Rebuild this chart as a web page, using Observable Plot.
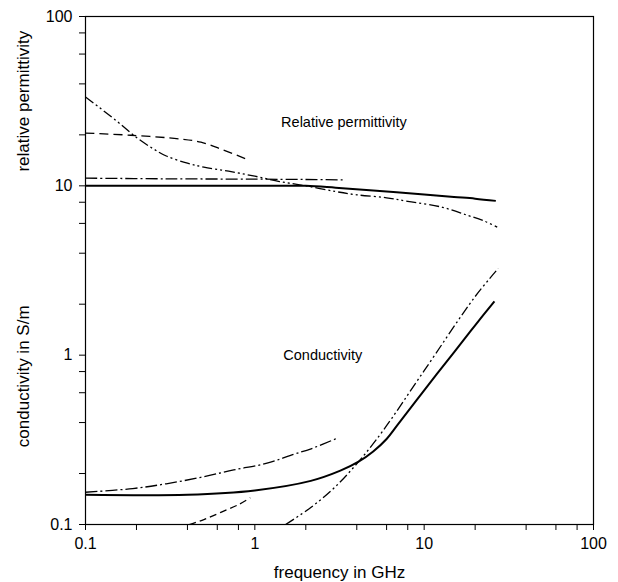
<!DOCTYPE html>
<html><head><meta charset="utf-8">
<script src="https://cdn.jsdelivr.net/npm/d3@7"></script>
<script src="https://cdn.jsdelivr.net/npm/@observablehq/plot@0.6"></script>
<style>body{margin:0;background:#fff}</style>
</head><body><div id="chart"></div>
<script>
// Relative permittivity curves (frequency in GHz, value)
const permSolidF = [0.1, 0.3, 1, 2, 3, 5, 10, 15, 20, 26.5];
const permSolidV = [10.0, 10.0, 10.0, 10.0, 9.75, 9.4, 8.9, 8.6, 8.4, 8.15];
const permDashDotF = [0.1, 0.3, 1, 2, 3.3];
const permDashDotV = [11.1, 11.0, 10.95, 10.9, 10.85];
const permDashedF = [0.1, 0.185, 0.365, 0.48, 0.63, 0.92];
const permDashedV = [20.5, 19.9, 18.9, 18.1, 16.5, 14.2];
const permDashDotDotF = [0.1, 0.15, 0.2, 0.25, 0.3, 0.4, 0.5, 0.7, 1.0, 1.4, 2.0, 3.0, 4.0, 6.0, 8.0, 12.6, 18, 22.6, 27];
const permDashDotDotV = [33.5, 24.5, 19.3, 16.6, 15.0, 13.6, 12.9, 12.2, 11.4, 10.6, 10.0, 9.25, 8.85, 8.5, 8.1, 7.5, 6.7, 6.2, 5.7];

// Conductivity curves (frequency in GHz, S/m)
const condSolidF = [0.1, 0.4, 1, 2.14, 3.2, 4.1, 5, 6, 7, 10, 15, 20, 26];
const condSolidV = [0.150, 0.150, 0.159, 0.181, 0.208, 0.235, 0.27, 0.32, 0.39, 0.62, 1.04, 1.50, 2.08];
const condDashDotF = [0.1, 0.19, 0.3, 0.48, 0.75, 1.18, 1.7, 2.15, 3.1];
const condDashDotV = [0.155, 0.163, 0.174, 0.19, 0.21, 0.23, 0.26, 0.28, 0.325];
const condDashedF = [0.41, 0.5, 0.63, 0.8, 0.94];
const condDashedV = [0.1, 0.107, 0.118, 0.131, 0.144];
const condDashDotDotF = [1.52, 2.14, 2.95, 4.1, 5.7, 10, 20, 27.4];
const condDashDotDotV = [0.1, 0.126, 0.165, 0.235, 0.357, 0.81, 2.22, 3.25];

// Ticks
const majorTicks = [0.1, 1, 10, 100];
const minorTicks = [0.2, 0.4, 0.6, 0.8, 2, 4, 6, 8, 20, 40, 60, 80];

// Annotations
const annoLabels = ["Relative permittivity", "Conductivity"];
const annoF = [3.36, 2.52];
const annoV = [23.8, 1.0];

const xTitle = "frequency in GHz";
const yTitles = ["relative permittivity", "conductivity in S/m"];
const yTitleV = [31.6, 0.75];

const zip = (F, V) => F.map((f, i) => ({f, v: V[i]}));
const series = [
  {data: zip(permSolidF, permSolidV), dash: null, w: 2},
  {data: zip(permDashDotF, permDashDotV), dash: "12,3,2,3", w: 1.3},
  {data: zip(permDashedF, permDashedV), dash: "9,5", w: 1.3},
  {data: zip(permDashDotDotF, permDashDotDotV), dash: "10,3,2,3,2,3", w: 1.3},
  {data: zip(condSolidF, condSolidV), dash: null, w: 2},
  {data: zip(condDashDotF, condDashDotV), dash: "12,3,2,3", w: 1.3},
  {data: zip(condDashedF, condDashedV), dash: "7,4", w: 1.3},
  {data: zip(condDashDotDotF, condDashDotDotV), dash: "10,3,2,3,2,3", w: 1.3}
];

const font = "'Liberation Sans', Arial, Helvetica, sans-serif";

const chart = Plot.plot({
  width: 618,
  height: 582,
  marginLeft: 85,
  marginRight: 25,
  marginTop: 16,
  marginBottom: 58,
  style: {fontFamily: font, fontSize: "16px", background: "#fff", color: "#000"},
  x: {type: "log", domain: [0.1, 100]},
  y: {type: "log", domain: [0.1, 100]},
  marks: [
    Plot.frame({stroke: "#000", strokeWidth: 1.2}),
    Plot.axisX(majorTicks, {tickSize: 6, tickPadding: 7, tickFormat: d => String(d), label: null, fontSize: 16}),
    Plot.axisX(minorTicks, {tickSize: 6, tickFormat: () => "", label: null}),
    Plot.axisY(majorTicks, {tickSize: 6, tickPadding: 7, tickFormat: d => String(d), label: null, fontSize: 16}),
    Plot.axisY(minorTicks, {tickSize: 6, tickFormat: () => "", label: null}),
    ...series.map(s => Plot.line(s.data, {
      x: "f", y: "v", stroke: "#000", strokeWidth: s.w,
      strokeDasharray: s.dash, curve: "catmull-rom", strokeLinecap: "butt"
    })),
    Plot.text(annoLabels, {x: (d, i) => annoF[i], y: (d, i) => annoV[i], text: d => d, fontSize: 14.5, fill: "#000"}),
    Plot.text([xTitle], {frameAnchor: "bottom", dy: 48, text: d => d, fontSize: 17, lineAnchor: "middle", fill: "#000"}),
    Plot.text(yTitles, {y: (d, i) => yTitleV[i], frameAnchor: "left", dx: -62, rotate: -90, text: d => d, fontSize: 17, fill: "#000", textAnchor: "middle", lineAnchor: "middle"})
  ]
});
document.getElementById("chart").appendChild(chart);
</script>
</body></html>
